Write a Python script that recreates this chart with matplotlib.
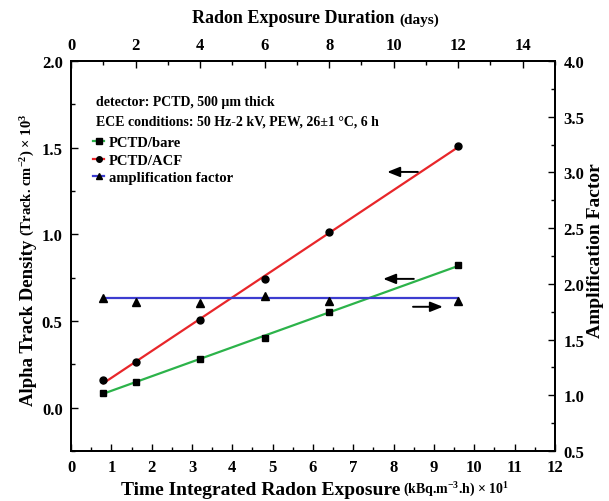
import matplotlib
matplotlib.use("Agg")
import matplotlib.pyplot as plt
from matplotlib.lines import Line2D
from matplotlib.ticker import MultipleLocator, FormatStrFormatter
import numpy as np

# values
days = [1, 2, 4, 6, 8, 12]
exposure = [0.8, 1.6, 3.2, 4.8, 6.4, 9.6]          # kBq.m-3.h x 10
bare = [0.086, 0.150, 0.282, 0.400, 0.550, 0.824]  # tracks/cm2 x 1e3
acf = [0.157, 0.263, 0.505, 0.740, 1.012, 1.512]
amp = [1.870, 1.835, 1.830, 1.895, 1.850, 1.850]
amp_level = 1.87

plt.rcParams['font.family'] = ['Liberation Serif', 'DejaVu Serif']
plt.rcParams['font.weight'] = 'bold'
plt.rcParams['mathtext.fontset'] = 'custom'
plt.rcParams['mathtext.rm'] = 'Liberation Serif:bold'
plt.rcParams['mathtext.bf'] = 'Liberation Serif:bold'
plt.rcParams['mathtext.it'] = 'Liberation Serif:bold'

RED = '#e8262a'
GREEN = '#2cb34a'
BLUE = '#3c3cd0'

fig = plt.figure(figsize=(6.09, 5.02), dpi=100)
ax = fig.add_axes([0.1166, 0.0996, 0.7947, 0.7769])
ax2 = ax.twinx()
ax3 = ax.twiny()

x = np.array(exposure)
k_b = np.polyfit(x, bare, 1)
k_a = np.polyfit(x, acf, 1)
xx = np.array([x[0], x[-1]])

ax.plot(xx, np.polyval(k_b, xx), color=GREEN, lw=1.6, zorder=2)
ax.plot(xx, np.polyval(k_a, xx), color=RED, lw=1.6, zorder=2)
ax.plot(exposure, bare, 's', color='k', ms=5, zorder=3)
ax.plot(exposure, acf, 'o', color='k', ms=5, zorder=3)

ax2.plot(xx, [amp_level, amp_level], color=BLUE, lw=1.6, zorder=2)
ax2.plot(exposure, amp, '^', color='k', ms=6, zorder=3)

ax.set_xlim(0, 12)
ax.set_ylim(-0.25, 2.0)
ax2.set_ylim(0.5, 4.0)
ax3.set_xlim(0, 15)

ax.xaxis.set_major_locator(MultipleLocator(1))
ax.xaxis.set_minor_locator(MultipleLocator(0.5))
ax.set_yticks([0.0, 0.5, 1.0, 1.5, 2.0])
ax.yaxis.set_minor_locator(MultipleLocator(0.25))
ax2.yaxis.set_major_locator(MultipleLocator(0.5))
ax2.yaxis.set_minor_locator(MultipleLocator(0.25))
ax3.xaxis.set_major_locator(MultipleLocator(2))
ax3.xaxis.set_minor_locator(MultipleLocator(1))
ax.yaxis.set_major_formatter(FormatStrFormatter('%.1f'))
ax2.yaxis.set_major_formatter(FormatStrFormatter('%.1f'))

for a in (ax, ax2, ax3):
    a.tick_params(which='both', direction='in', labelsize=12, width=1.0, pad=6)
    a.tick_params(which='major', length=5)
    a.tick_params(which='minor', length=3)
    for s in a.spines.values():
        s.set_linewidth(1.2)
ax.tick_params(axis='y', right=False)
ax.tick_params(axis='x', top=False)

# axis labels: main part plus smaller unit part
fig.text(0.657, 0.006, 'Time Integrated Radon Exposure', fontsize=14, ha='right', va='bottom')
fig.text(0.662, 0.006, r'(kBq.m$^{-3}$.h) × 10$^{1}$', fontsize=10, ha='left', va='bottom')
fig.text(0.648, 0.946, 'Radon Exposure Duration', fontsize=13, ha='right', va='bottom')
fig.text(0.655, 0.946, '(days)', fontsize=11, ha='left', va='bottom')
fig.text(0.046, 0.522, 'Alpha Track Density', fontsize=13.5, rotation=90, ha='center', va='top')
fig.text(0.046, 0.530, r'(Track. cm$^{-2}$) × 10$^{3}$', fontsize=10.5, rotation=90,
         ha='center', va='bottom')
fig.text(0.978, 0.50, 'Amplification Factor', fontsize=14, rotation=90, ha='center', va='center')

# annotation text and legend
ax.text(0.052, 0.895, 'detector: PCTD, 500 µm thick', transform=ax.transAxes, fontsize=10, va='center')
ax.text(0.052, 0.846, 'ECE conditions: 50 Hz-2 kV, PEW, 26±1 °C, 6 h', transform=ax.transAxes,
        fontsize=10, va='center')
handles = [
    Line2D([], [], color=GREEN, lw=1.6, marker='s', mfc='k', mec='k', ms=4),
    Line2D([], [], color=RED, lw=1.6, marker='o', mfc='k', mec='k', ms=4),
    Line2D([], [], color=BLUE, lw=1.6, marker='^', mfc='k', mec='k', ms=4),
]
ax.legend(handles, ['PCTD/bare', 'PCTD/ACF', 'amplification factor'], loc='upper left',
          bbox_to_anchor=(0.045, 0.808), frameon=False, fontsize=10.5, handlelength=0.8,
          handletextpad=0.3, labelspacing=0.3, borderpad=0, borderaxespad=0)

# direction arrows
arrow = dict(arrowstyle='-|>,head_length=0.5,head_width=0.2', color='k', lw=1.4,
             mutation_scale=15, shrinkA=0, shrinkB=0)
ax.annotate('', xy=(7.84, 1.36), xytext=(8.6, 1.36), arrowprops=arrow)
ax.annotate('', xy=(7.74, 0.743), xytext=(8.5, 0.743), arrowprops=arrow)
ax.annotate('', xy=(9.22, 0.582), xytext=(8.48, 0.582), arrowprops=arrow)

fig.savefig('out.png', dpi=100)
